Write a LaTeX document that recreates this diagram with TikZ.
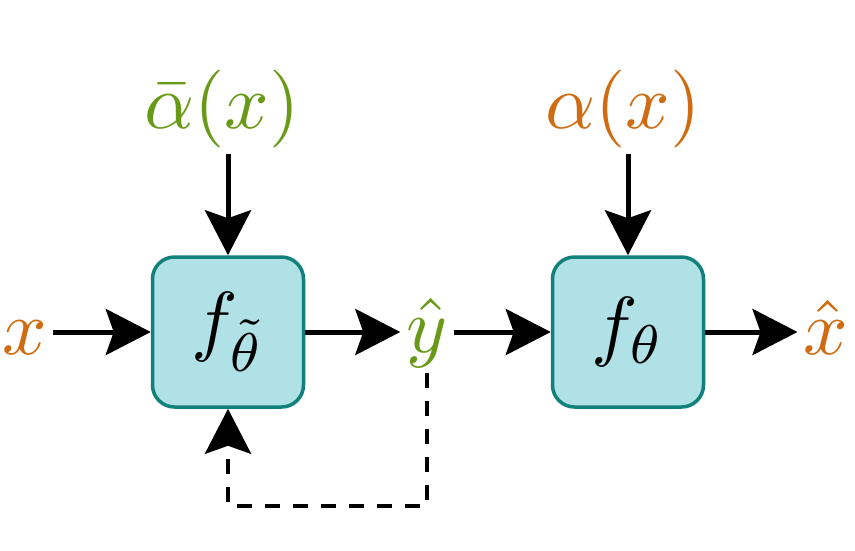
\documentclass[tikz,border=0pt]{standalone}
\usetikzlibrary{arrows.meta}
\definecolor{myorange}{RGB}{207,108,18}
\definecolor{mygreen}{RGB}{104,154,24}
\definecolor{boxfill}{RGB}{176,225,230}
\definecolor{boxdraw}{RGB}{18,128,124}
\newcommand{\bigtxt}[1]{\scalebox{7.8}{#1}}
\begin{document}
\begin{tikzpicture}[x=1pt,y=-1pt,
  blockbox/.style={draw=boxdraw, fill=boxfill, line width=3.5pt, rounded corners=22pt,
    minimum width=151pt, minimum height=150pt, inner sep=0pt},
  lbl/.style={inner sep=6pt, anchor=base},
  arr/.style={line width=5pt, -{Stealth[length=45pt,width=46pt,inset=8pt]}},
  dsh/.style={line width=4.5pt, dash pattern=on 15pt off 13pt,
    -{Stealth[length=45pt,width=46pt,inset=8pt]}}]
\useasboundingbox (0,0) rectangle (855,550);
\node[blockbox] (f1) at (228,332) {\bigtxt{$f_{\tilde\theta}$}};
\node[blockbox] (f2) at (628,332) {\bigtxt{$f_\theta$}};
\node[lbl, text=myorange] (x) at (25,354) {\bigtxt{$x$}};
\node[lbl, text=mygreen] (y) at (427,352) {\bigtxt{$\hat y$}};
\node[lbl, text=myorange] (xh) at (826,354) {\bigtxt{$\hat x$}};
\node[lbl, text=mygreen] (ab) at (222,128) {\bigtxt{$\bar\alpha(x)$}};
\node[lbl, text=myorange] (a) at (623,128) {\bigtxt{$\alpha(x)$}};
\coordinate (d) at (228,506);
\draw[arr] (x.east |- f1.west) -- (f1.west);
\draw[arr] (f1.east) -- (y.west |- f1.east);
\draw[arr] (y.east |- f2.west) -- (f2.west);
\draw[arr] (f2.east) -- (xh.west |- f2.east);
\draw[arr] (ab.south -| f1.north) -- (f1.north);
\draw[arr] (a.south -| f2.north) -- (f2.north);
\draw[dsh] (y.south) |- (d) -- (f1.south);
\end{tikzpicture}
\end{document}
